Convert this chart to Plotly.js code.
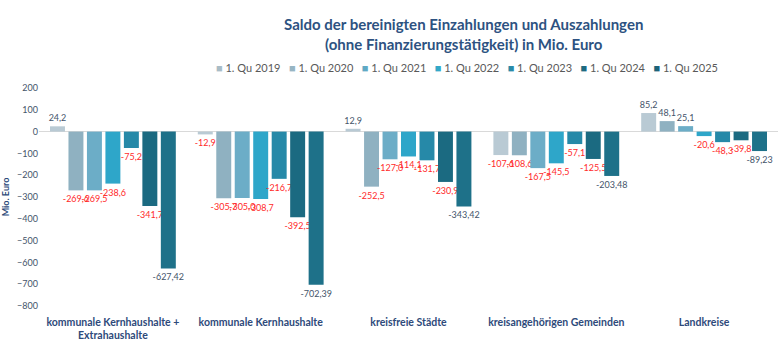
<!DOCTYPE html>
<html>
<head>
<meta charset="utf-8">
<script src="https://cdn.plot.ly/plotly-3.0.1.min.js"></script>
<style>html,body{margin:0;padding:0;background:#fff;}#chart{width:780px;height:350px;}</style>
</head>
<body>
<div id="chart"></div>
<script>
const categories = ["kommunale Kernhaushalte +<br>Extrahaushalte", "kommunale Kernhaushalte", "kreisfreie Städte", "kreisangehörigen Gemeinden", "Landkreise"];
const seriesNames = ["1. Qu 2019", "1. Qu 2020", "1. Qu 2021", "1. Qu 2022", "1. Qu 2023", "1. Qu 2024", "1. Qu 2025"];
const q2019 = [24.2, -12.9, 12.9, -107.6, 85.2];
const q2020 = [-269.6, -305.7, -252.5, -108.6, 48.1];
const q2021 = [-269.5, -305.0, -127.0, -167.5, 25.1];
const q2022 = [-238.6, -308.7, -114.1, -145.5, -20.6];
const q2023 = [-75.2, -216.7, -131.7, -57.1, -48.3];
const q2024 = [-341.7, -392.5, -230.9, -125.5, -39.8];
const q2025 = [-627.42, -702.39, -343.42, -203.48, -89.23];
const seriesValues = [q2019, q2020, q2021, q2022, q2023, q2024, q2025];
const decimals = [1, 1, 1, 1, 1, 1, 2];
const colors = ["#b9cad4", "#8fb1c1", "#6cadc7", "#2ea6c9", "#2689a8", "#1b6a81", "#1e7189"];
const legendColors = ["#a9bcc6", "#97b5c3", "#5fa9c4", "#33a8c8", "#2a8aa7", "#1d6a80", "#1c6379"];

const darkText = "#44546a";
const redText = "#ff2a2a";
const fontFam = "Lato, 'Open Sans', sans-serif";

const traces = seriesValues.map((vals, i) => ({
  type: "bar",
  name: seriesNames[i],
  x: categories,
  y: vals,
  text: vals.map(v => v.toFixed(decimals[i]).replace(".", ",")),
  textposition: "outside",
  constraintext: "none",
  cliponaxis: false,
  textfont: {size: 9, family: fontFam,
    color: vals.map(v => (v >= 0 || i === 6) ? darkText : redText)},
  marker: {color: colors[i], line: {width: 0}},
  hoverinfo: "none",
  showlegend: false
}));

const legendText = seriesNames.map((n, i) =>
  '<span style="color:' + legendColors[i] + '">■</span> ' + n).join("&nbsp;&nbsp;&nbsp;");

const layout = {
  width: 780, height: 350,
  margin: {l: 39, r: 2, t: 88, b: 44},
  paper_bgcolor: "#fff", plot_bgcolor: "#fff",
  font: {family: fontFam, color: "#595959"},
  barmode: "group",
  bargap: 0.125,
  bargroupgap: 0.19,
  showlegend: false,
  annotations: [{
    text: "<b>Saldo der bereinigten Einzahlungen und Auszahlungen<br>(ohne Finanzierungstätigkeit) in Mio. Euro</b>",
    xref: "paper", yref: "paper", x: 0.574, y: 1.25, xanchor: "center", yanchor: "middle",
    showarrow: false, align: "center",
    font: {size: 15, color: "#2d5281", family: fontFam}
  }, {
    text: legendText,
    xref: "paper", yref: "paper", x: 0.579, y: 1.092, xanchor: "center", yanchor: "middle",
    showarrow: false,
    font: {size: 11, color: "#595959", family: fontFam}
  }],
  xaxis: {
    showgrid: false, showline: false, ticks: "",
    tickfont: {size: 10.5, color: "#2e4a7a", family: fontFam, weight: "bold"},
    ticklabelstandoff: 8
  },
  yaxis: {
    range: [-800, 200],
    dtick: 100,
    showgrid: false, showline: false,
    zeroline: true, zerolinecolor: "#d9d9d9", zerolinewidth: 1,
    tickfont: {size: 9, color: "#44546a"},
    title: {text: "<b>Mio. Euro</b>", font: {size: 9, color: "#2e4a7a"}, standoff: 6}
  }
};

Plotly.newPlot("chart", traces, layout, {displayModeBar: false, staticPlot: true});
</script>
</body>
</html>
